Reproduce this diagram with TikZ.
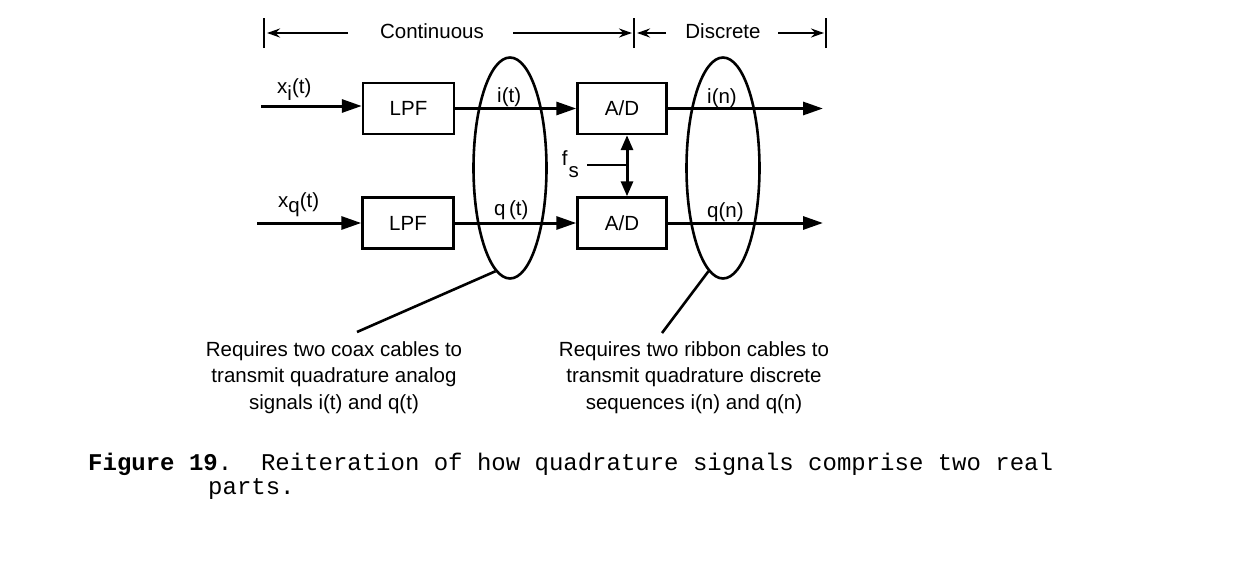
\documentclass[tikz,border=0pt]{standalone}
\usepackage{fontspec}
\setmainfont{Liberation Sans}
\setmonofont{Liberation Mono}
\usetikzlibrary{arrows.meta,shapes.geometric}
\begin{document}
\begin{tikzpicture}[x=1pt,y=-1pt,
 lbl/.style={inner sep=0pt,font=\fontsize{20.5}{26.5}\selectfont},
 blk/.style={draw,line width=2.4pt,minimum width=91pt,minimum height=51pt,inner sep=0pt,font=\fontsize{20.5}{24}\selectfont},
 sig/.style={line width=3pt,-{Triangle[length=20pt,width=13pt]}},
 dbl/.style={line width=3pt,{Triangle[length=15pt,width=12pt]}-{Triangle[length=15pt,width=12pt]}},
 dimarrow/.style={line width=2.2pt,-{Stealth[length=13pt,width=9pt]}},
 bar/.style={line width=2.6pt},
 cable/.style={draw,ellipse,line width=2.6pt,minimum width=73pt,minimum height=221pt,inner sep=0pt},
 ptr/.style={line width=2.6pt},
 note/.style={inner sep=0pt,align=center,font=\fontsize{20.5}{26.5}\selectfont},
 captext/.style={inner sep=0pt,font=\ttfamily\fontsize{24}{28}\selectfont}]
\useasboundingbox[fill=white] (0,0) rectangle (1258,570);

% dimension bars and arrows
\coordinate (b1) at (264,33);
\coordinate (b2) at (634,33);
\coordinate (b3) at (826,33);
\foreach \b in {b1,b2,b3}{\draw[bar] ([yshift=-15pt]\b) -- ([yshift=15pt]\b);}
\node[lbl,anchor=base] (cont) at (432,38) {Continuous};
\node[lbl,anchor=base] (disc) at (723,38) {Discrete};
\coordinate (c1) at (348,33);
\coordinate (c2) at (513,33);
\coordinate (d1) at (666,33);
\coordinate (d2) at (778,33);
\draw[dimarrow] (c1) -- ([xshift=3pt]b1);
\draw[dimarrow] (c2) -- ([xshift=-2pt]b2);
\draw[dimarrow] (d1) -- ([xshift=3pt]b2);
\draw[dimarrow] (d2) -- ([xshift=-2pt]b3);

% blocks
\node[blk] (lpfT) at (408.5,108.5) {LPF};
\node[blk] (lpfB) at (408,223) {LPF};
\node[blk,minimum width=89pt] (adT) at (622,108.5) {A/D};
\node[blk,minimum width=89pt] (adB) at (622,223) {A/D};

% cable ellipses
\node[cable] (e1) at (510,168) {};
\node[cable] (e2) at (723,168) {};

% signal arrows
\coordinate (inI) at (261,106);
\coordinate (inQ) at (257,223);
\draw[sig] (inI) -- (inI -| lpfT.west);
\draw[sig] (inQ) -- (inQ -| lpfB.west);
\draw[sig] (lpfT.east) -- (adT.west);
\draw[sig] (lpfB.east) -- (adB.west);
\coordinate (outI) at (823,108.5);
\coordinate (outQ) at (823,223);
\draw[sig] (adT.east) -- (outI);
\draw[sig] (adB.east) -- (outQ);

% signal labels
\node[lbl,anchor=base west] (lxi) at (277,93) {x\raisebox{-7pt}{i}(t)};
\node[lbl,anchor=base west] (lxq) at (278,207) {x\raisebox{-5pt}{q}(t)};
\node[lbl,anchor=base west] (lit) at (497,102) {i(t)};
\node[lbl,anchor=base west] (lqt) at (494,215) {q\,(t)};
\node[lbl,anchor=base west] (lin) at (707,103) {i(n)};
\node[lbl,anchor=base west] (lqn) at (707,217) {q(n)};

% sampling clock
\node[lbl,anchor=base east] (fsl) at (579,165) {f\kern1pt\raisebox{-12pt}{s}};
\coordinate (fs0) at (587,165);
\coordinate (fsj) at (627,165);
\draw[ptr] (fs0) -- (fsj);
\draw[dbl] (adT.south -| fsj) -- (adB.north -| fsj);

% notes
\node[note,anchor=north] (n1) at (334,341) {Requires two coax cables to\\transmit quadrature analog\\signals i(t) and q(t)};
\node[note,anchor=north] (n2) at (694,341) {Requires two ribbon cables to\\transmit quadrature discrete\\sequences i(n) and q(n)};
\coordinate (p1) at (357,332);
\coordinate (p2) at (662,333);
\draw[ptr] (e1.262) -- (p1);
\draw[ptr] (e2.262) -- (p2);

% caption
\node[captext,anchor=base west] (cap1) at (88,470) {\textbf{Figure 19}.\ \ Reiteration of how quadrature signals comprise two real};
\node[captext,anchor=base west] (cap2) at (208,494) {parts.};
\end{tikzpicture}
\end{document}
